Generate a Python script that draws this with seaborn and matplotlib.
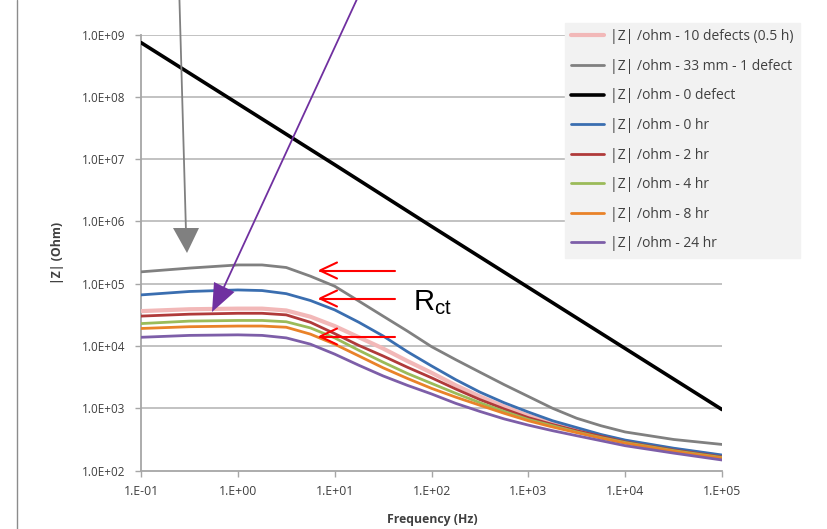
import matplotlib
matplotlib.use("Agg")
import matplotlib.pyplot as plt
from matplotlib.lines import Line2D
from matplotlib.patches import Polygon
import seaborn as sns
import pandas as pd

# ---------------- data ----------------
freq = [0.1, 0.316, 1, 1.78, 3.16, 5.62, 10, 17.8, 31.6, 56.2, 100, 178, 316, 562,
        1000, 1780, 3160, 5620, 10000, 31600, 100000]
z_10def = [36300, 38900, 39800, 39800, 37200, 29500, 20900, 13800, 9120, 5750, 3720, 2340, 1550, 1070,
           759, 575, 457, 363, 295, 219, 170]
z_33mm = [155000, 178000, 200000, 200000, 182000, 132000, 91200, 52500, 30200, 17400, 9770, 6030, 3800, 2400,
          1550, 1000, 692, 525, 417, 316, 263]
freq_0def = [0.1, 1, 10, 100, 1000, 10000, 100000]
z_0def = [7.41e8, 7.76e7, 8.13e6, 8.32e5, 8.71e4, 9.12e3, 955]
z_0hr = [66100, 75000, 79400, 77600, 69200, 53700, 38000, 24000, 14500, 8130, 4790, 2880, 1820, 1230,
         871, 631, 490, 380, 309, 229, 178]
z_2hr = [30200, 32400, 33500, 33500, 31600, 24000, 15800, 10200, 6920, 4570, 3090, 2040, 1380, 977,
         708, 550, 437, 355, 288, 214, 166]
z_4hr = [22900, 25100, 25700, 25700, 24500, 19500, 13500, 8510, 5500, 3630, 2510, 1740, 1230, 891,
         661, 525, 417, 339, 282, 209, 162]
z_8hr = [19100, 20400, 20900, 20900, 20000, 15500, 10700, 6920, 4470, 3020, 2090, 1510, 1120, 832,
         631, 501, 407, 331, 275, 204, 158]
z_24hr = [13800, 14800, 15100, 14800, 13500, 10700, 7410, 4900, 3310, 2340, 1700, 1200, 891, 676,
          537, 437, 363, 302, 251, 191, 148]

labels = ["|Z| /ohm - 10 defects (0.5 h)", "|Z| /ohm - 33 mm - 1 defect", "|Z| /ohm - 0 defect",
          "|Z| /ohm - 0 hr", "|Z| /ohm - 2 hr", "|Z| /ohm - 4 hr", "|Z| /ohm - 8 hr", "|Z| /ohm - 24 hr"]
colors = ["#f2b8b8", "#808080", "#000000", "#3a6eb0", "#b03a3a", "#9bbb59", "#e98229", "#7d5ea8"]
widths = [3.0, 2.0, 2.6, 2.0, 2.0, 2.0, 2.0, 2.0]

xticks = [0.1, 1, 10, 100, 1000, 10000, 100000]
xtick_labels = ["1.E-01", "1.E+00", "1.E+01", "1.E+02", "1.E+03", "1.E+04", "1.E+05"]
yticks = [1e2, 1e3, 1e4, 1e5, 1e6, 1e7, 1e8, 1e9]
ytick_labels = ["1.0E+02", "1.0E+03", "1.0E+04", "1.0E+05", "1.0E+06", "1.0E+07", "1.0E+08", "1.0E+09"]

series = [(freq, z_10def), (freq, z_33mm), (freq_0def, z_0def), (freq, z_0hr),
          (freq, z_2hr), (freq, z_4hr), (freq, z_8hr), (freq, z_24hr)]

# ---------------- figure ----------------
sns.set_theme(style="white")
plt.rcParams['font.family'] = ['Open Sans', 'DejaVu Sans']
plt.rcParams['mathtext.fontset'] = 'custom'
plt.rcParams['mathtext.rm'] = 'Liberation Sans'
plt.rcParams['mathtext.it'] = 'Liberation Sans'

W, H = 827, 529
fig = plt.figure(figsize=(W / 100, H / 100), dpi=100)
fig.patch.set_facecolor("white")

def fx(x):
    return x / W

def fy(y):
    return 1 - y / H

ax_l, ax_r, ax_t, ax_b = 141, 722, 34.5, 470.6
ax = fig.add_axes([fx(ax_l), fy(ax_b), (ax_r - ax_l) / W, (ax_b - ax_t) / H])
ax.set_facecolor("white")

for (xs, ys), lab, c, lw in zip(series, labels, colors, widths):
    df = pd.DataFrame({"f": xs, "z": ys})
    sns.lineplot(data=df, x="f", y="z", ax=ax, color=c, lw=lw, label=lab,
                 estimator=None, sort=False, zorder=3)
for ln in ax.get_lines():
    ln.set_solid_joinstyle("round")
    ln.set_solid_capstyle("round")

ax.set_xscale("log")
ax.set_yscale("log")
ax.set_xlim(0.1, 1e5)
ax.set_ylim(1e2, 1e9)
ax.set_xticks(xticks)
ax.set_xticklabels(xtick_labels)
ax.set_yticks(yticks)
ax.set_yticklabels(ytick_labels)
ax.minorticks_off()
ax.set_xlabel("")
ax.set_ylabel("")

grid_c = "#bdbdbd"
for yv in yticks[1:]:
    ax.axhline(yv, color=grid_c, lw=1.3, zorder=1)

for s in ["top", "right"]:
    ax.spines[s].set_visible(False)
for s in ["left", "bottom"]:
    ax.spines[s].set_color("#a6a6a6")
    ax.spines[s].set_linewidth(1.3)

ax.tick_params(axis="both", which="major", direction="out", length=4.5, width=1.0,
               color="#a6a6a6", labelcolor="#404040")
ax.tick_params(axis="y", pad=7, labelsize=8.5)
ax.tick_params(axis="x", pad=6, labelsize=8.8)
ax.tick_params(left=True, bottom=True)

leg = ax.legend(loc="upper left", bbox_to_anchor=(fx(565), fy(23)), bbox_transform=fig.transFigure,
                borderaxespad=0, frameon=True, fancybox=False, framealpha=1,
                facecolor="#f2f2f2", edgecolor="#f2f2f2", fontsize=10,
                handlelength=2.37, handletextpad=0.45, labelspacing=1.05, borderpad=0.45)
for t in leg.get_texts():
    t.set_color("#404040")
leg.set_zorder(5)

# axis titles
fig.text(fx(57), fy(253), "|Z| (Ohm)", rotation=90, ha="center", va="center",
         fontsize=8.8, fontweight="bold", color="#404040")
fig.text(fx(432), fy(519), "Frequency (Hz)", ha="center", va="center",
         fontsize=8.8, fontweight="bold", color="#404040")

# outer frame line
fig.add_artist(Line2D([fx(17), fx(17)], [0, 1], transform=fig.transFigure, color="#8c8c8c", lw=1.0))

# gray arrow
fig.add_artist(Line2D([fx(179.4), fx(186)], [fy(-2), fy(232)], transform=fig.transFigure,
                      color="#808080", lw=1.3, zorder=6))
fig.add_artist(Polygon([(fx(173), fy(228)), (fx(199), fy(228)), (fx(187), fy(253))],
                       closed=True, transform=fig.transFigure, facecolor="#808080",
                       edgecolor="none", zorder=6))

# purple arrow
fig.add_artist(Line2D([fx(357.5), fx(224)], [fy(-2), fy(287)], transform=fig.transFigure,
                      color="#7030a0", lw=1.3, zorder=6))
fig.add_artist(Polygon([(fx(212), fy(312)), (fx(234.5), fy(292)), (fx(214), fy(282))],
                       closed=True, transform=fig.transFigure, facecolor="#7030a0",
                       edgecolor="none", zorder=6))

# red arrows
for yy in [270.5, 298.5, 336.5]:
    fig.add_artist(Line2D([fx(395), fx(320)], [fy(yy), fy(yy)], transform=fig.transFigure,
                          color="#ff0000", lw=1.5, zorder=6))
    fig.add_artist(Line2D([fx(337), fx(320), fx(337)], [fy(yy - 8), fy(yy), fy(yy + 8)],
                          transform=fig.transFigure, color="#ff0000", lw=1.5, zorder=6,
                          solid_joinstyle="miter"))

fig.text(fx(413), fy(310), r"$\mathrm{R_{ct}}$", fontsize=21,
         ha="left", va="baseline", color="black")

fig.savefig("out.png", dpi=100, facecolor="white")
